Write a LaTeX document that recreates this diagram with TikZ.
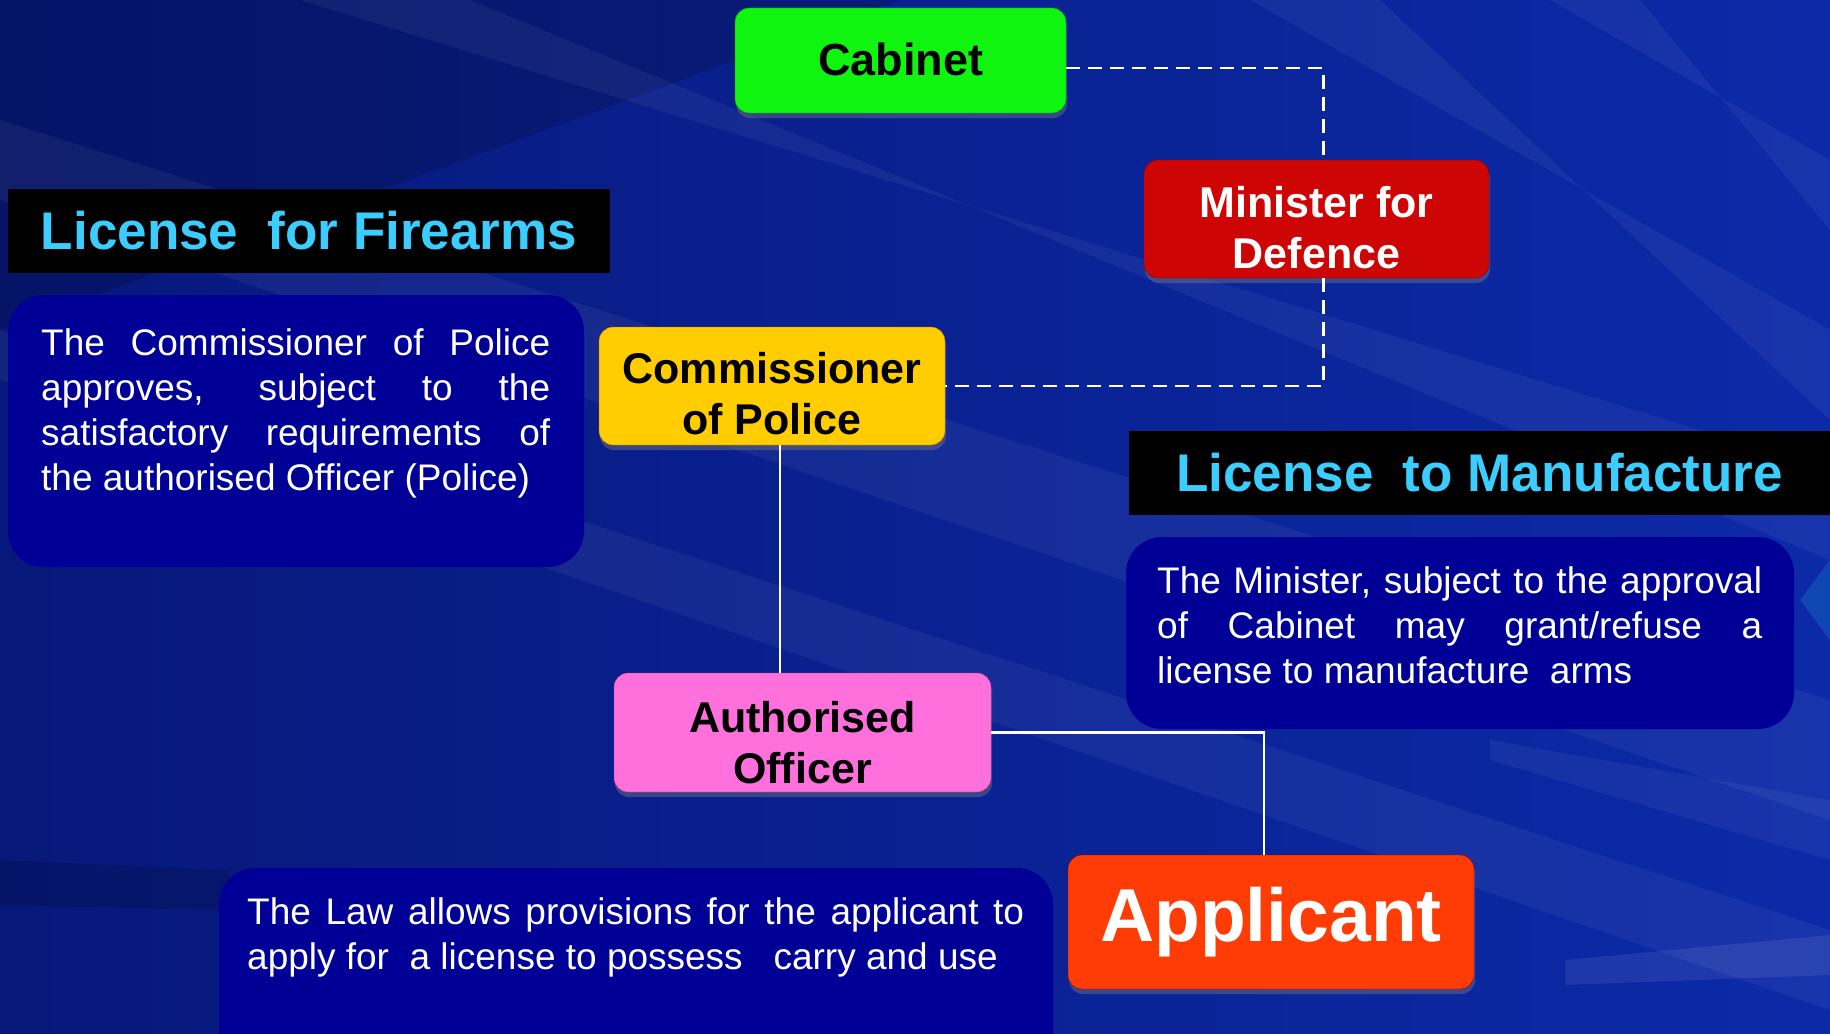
\documentclass[tikz,border=0pt]{standalone}
\usepackage{fontspec}
\setmainfont{Liberation Sans}
\usetikzlibrary{shadows,calc}
\definecolor{bgA}{RGB}{7,24,122}
\definecolor{bgB}{RGB}{12,42,168}
\definecolor{panelC}{RGB}{0,0,150}
\definecolor{cyanT}{RGB}{60,205,255}
\definecolor{cabG}{RGB}{15,245,15}
\definecolor{minR}{RGB}{205,5,5}
\definecolor{comY}{RGB}{255,205,0}
\definecolor{offP}{RGB}{255,112,220}
\definecolor{appO}{RGB}{255,60,5}
\newcommand{\droptxt}[2]{\raisebox{-#1}[\height][\depth]{\begin{tabular}{@{}c@{}}#2\end{tabular}}}
\tikzset{
  orgbox/.style={rounded corners=14pt, inner sep=0pt, align=center,
    font=\bfseries\fontsize{43}{51}\selectfont,
    drop shadow={shadow xshift=1pt,shadow yshift=-5pt,opacity=0.4}},
  titlebox/.style={fill=black, inner sep=0pt, text=cyanT,
    font=\bfseries\fontsize{53}{60}\selectfont},
  panelbox/.style={fill=panelC, rounded corners=36pt, inner sep=0pt},
  paneltext/.style={text=white, inner sep=0pt, anchor=north west, align=left,
    font=\fontsize{37}{45}\selectfont},
  dashlink/.style={draw=white, line width=2.5pt, dash pattern=on 14pt off 8pt},
  solidlink/.style={draw=white, line width=2.5pt},
  streak/.style={fill=white, opacity=0.05}
}
\begin{document}
\begin{tikzpicture}[x=1pt,y=-1pt]
\useasboundingbox (0,0) rectangle (1830,1033);
\clip (0,0) rectangle (1830,1033);
% background
\fill[left color=bgA, right color=bgB] (0,0) rectangle (1830,1033);
\fill[black, opacity=0.16] (0,0) -- (900,0) -- (0,330) -- cycle;
\fill[streak] (0,120) -- (0,200) -- (1830,820) -- (1830,700) -- cycle;
\fill[streak] (0,330) -- (0,380) -- (1830,1010) -- (1830,930) -- cycle;
\fill[streak] (300,0) -- (470,0) -- (1830,560) -- (1830,470) -- cycle;
\fill[streak] (1250,0) -- (1380,0) -- (1830,420) -- (1830,330) -- cycle;
\fill[streak] (1550,0) -- (1640,0) -- (1830,230) -- (1830,160) -- cycle;
\fill[streak] (1490,740) -- (1830,800) -- (1830,860) -- (1490,760) -- cycle;
\fill[black, opacity=0.15] (0,860) -- (230,870) -- (230,910) -- (0,905) -- cycle;
\fill[white, opacity=0.08] (1565,960) -- (1830,935) -- (1830,975) -- (1565,985) -- cycle;
\fill[cyan!60!blue, opacity=0.35] (1830,560) -- (1800,600) -- (1830,640) -- cycle;

% panels
\node[panelbox, minimum width=576pt, minimum height=272pt] (p1) at (296,431) {};
\node[paneltext] (t1) at (41,328) {\makebox[509pt][s]{The Commissioner of Police}\\
\makebox[509pt][s]{approves, subject to the}\\
\makebox[509pt][s]{satisfactory requirements of}\\
the authorised Officer (Police)};
\node[panelbox, minimum width=668pt, minimum height=192pt] (p2) at (1460,633) {};
\node[paneltext] (t2) at (1157,566) {\makebox[605pt][s]{The Minister, subject to the approval}\\
\makebox[605pt][s]{of Cabinet may grant/refuse a}\\
license to manufacture\ \ arms};
\node[panelbox, minimum width=834pt, minimum height=230pt] (p3) at (636,983) {};
\node[paneltext] (t3) at (247,897) {\makebox[777pt][s]{The Law allows provisions for the applicant to}\\
apply for\ \ a license to possess\ \ \ carry and use};

% titles
\node[titlebox, minimum width=602pt, minimum height=84pt] (h1) at (309,231) {License\ \ for Firearms};
\node[titlebox, minimum width=701pt, minimum height=84pt] (h2) at (1479.5,473) {License\ \ to Manufacture};

% org boxes
\node[orgbox, fill=cabG, draw=green!60!black, minimum width=331pt, minimum height=105pt,
  font=\bfseries\fontsize{45}{50}\selectfont] (cab) at (900.5,60.5) {\droptxt{4.5pt}{Cabinet}};
\node[orgbox, fill=minR, draw=red!55!black, text=white, minimum width=345pt, minimum height=118pt] (min) at (1316.5,219) {\droptxt{14pt}{Minister for\\Defence}};
\node[orgbox, fill=comY, draw=orange!75!black, text=black, minimum width=346pt, minimum height=118pt] (com) at (772,386) {\droptxt{13pt}{Commissioner\\of Police}};
\node[orgbox, fill=offP, draw=magenta!60!black, text=black, minimum width=377pt, minimum height=119pt] (off) at (802.5,732.5) {\droptxt{15pt}{Authorised\\Officer}};
\node[orgbox, fill=appO, draw=red!60!black, text=white, minimum width=406pt, minimum height=134pt,
  font=\bfseries\fontsize{75}{80}\selectfont] (app) at (1271,922) {Applicant};

% connectors
\draw[dashlink] ([yshift=-7.5pt]cab.east) -| ([xshift=7pt]min.north);
\draw[dashlink] ([xshift=7pt]min.south) |- (com.east);
\draw[solidlink] ([xshift=8pt]com.south) -- ([xshift=8pt]com.south |- off.north);
\draw[solidlink] (off.east) -| ([xshift=-7pt]app.north);
\end{tikzpicture}
\end{document}
